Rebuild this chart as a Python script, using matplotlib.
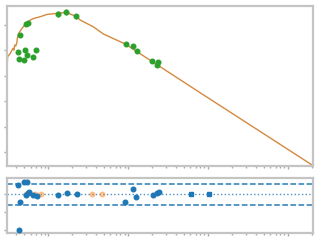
import matplotlib
matplotlib.use('Agg')
import matplotlib.pyplot as plt

# measured data (top panel)
data_x = [0.413, 0.425, 0.438, 0.491, 0.516, 0.536, 0.551, 0.531, 0.637, 0.708,
          1.31, 1.68, 2.24, 9.36, 11.65, 12.85, 20.1, 23.2, 23.9]
data_y = [3.91, 3.64, 4.59, 3.60, 4.00, 3.80, 5.05, 5.02, 3.73, 4.00,
          5.40, 5.48, 5.33, 4.24, 4.15, 3.95, 3.56, 3.40, 3.52]
data_err = [0.06, 0.06, 0.06, 0.06, 0.06, 0.06, 0.08, 0.08, 0.06, 0.06,
            0.12, 0.12, 0.10, 0.06, 0.06, 0.06, 0.06, 0.06, 0.06]

# model curve
fit_x = [0.305, 0.310, 0.335, 0.362, 0.371, 0.381, 0.393, 0.406, 0.410, 0.425,
         0.469, 0.531, 0.596, 0.655, 0.794, 0.963, 1.28, 1.68, 2.24, 2.51,
         3.68, 4.47, 4.91, 9.17, 79.4, 2054]
fit_y = [3.28, 3.74, 3.87, 4.07, 4.00, 4.20, 4.16, 4.31, 4.46, 4.65,
         4.85, 5.05, 5.18, 5.24, 5.31, 5.40, 5.44, 5.48, 5.32, 5.18,
         4.91, 4.72, 4.63, 4.24, 2.33, -0.53]

# residuals (bottom panel)
res_x = [0.413, 0.491, 0.542, 0.438, 0.425, 0.526, 0.567, 0.557, 0.637, 0.722,
         1.31, 1.71, 2.28, 9.17, 11.64, 12.6, 20.2, 23.2, 24.1]
res_y = [0.53, 0.68, 0.68, -0.45, -2.05, -0.04, 0.15, 0.06, -0.06, -0.11,
         -0.06, 0.06, 0.0, -0.45, 0.30, -0.15, -0.06, 0.06, 0.11]
res_sq_x = [61.3, 103.8]
res_sq_y = [0.0, 0.0]
excl_x = [0.531, 0.674, 0.818, 3.52, 4.77]
excl_y = [0.0, 0.0, 0.0, 0.0, 0.0]
band_hi = 0.57
band_lo = -0.625

fig = plt.figure(figsize=(3.2, 2.4), dpi=100)
ax = fig.add_axes([0.022, 0.308, 0.956, 0.667])
axr = fig.add_axes([0.022, 0.029, 0.956, 0.229])

ax.plot(fit_x, fit_y, color='#d4893f', lw=1.0, zorder=2)
ax.errorbar(data_x, data_y, yerr=data_err, fmt='o', color='C2', ms=3.3,
            elinewidth=1, capsize=0, zorder=3)
ax.set_xscale('log')
ax.set_xlim(0.305, 2054)
ax.set_ylim(-0.55, 5.73)
ax.set_yticks([0, 1, 2, 3, 4, 5])

axr.axhline(band_hi, color='#2a7ab5', ls='--', lw=1.1)
axr.axhline(band_lo, color='#2a7ab5', ls='--', lw=1.1)
axr.axhline(0, color='C0', ls=':', lw=1, alpha=0.8)
axr.plot(excl_x, excl_y, 'o', color='C1', ms=3.3, alpha=0.4, zorder=3)
axr.plot(res_x, res_y, 'o', color='C0', ms=3.3, zorder=4)
axr.plot(res_sq_x, res_sq_y, 's', color='C0', ms=3.3, zorder=4)
axr.set_xscale('log')
axr.set_xlim(0.305, 2054)
axr.set_ylim(-2.2, 0.93)
axr.set_yticks([-2, -1, 0])

for a in (ax, axr):
    for s in a.spines.values():
        s.set_color('#c4c4c4')
        s.set_linewidth(1.6)
    a.tick_params(which='both', colors='#aaaaaa', length=2, width=1,
                  labelleft=False, labelbottom=False)
    a.tick_params(which='minor', length=1.5)

plt.savefig('out.png', dpi=100)
